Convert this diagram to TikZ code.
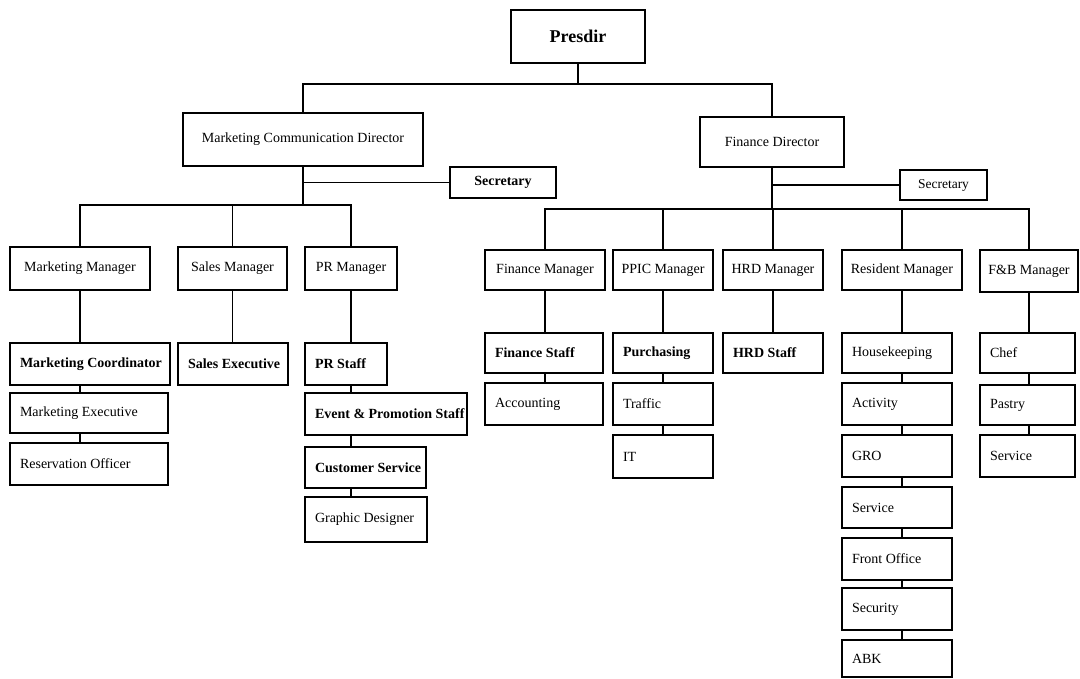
\documentclass[tikz,border=0pt]{standalone}
\usepackage{fontspec}
\setmainfont{Liberation Serif}
\tikzset{
  bx/.style={draw=black, line width=1.5pt, fill=white, inner xsep=10pt, inner ysep=2pt,
    font=\fontsize{14}{16}\selectfont, text=black},
  bb/.style={font=\fontsize{14}{16}\selectfont\bfseries},
  ln/.style={draw=black, line width=1.5pt}
}
\newcommand\obox[8]{%
  \pgfmathsetmacro\bw{#6-#4}%
  \pgfmathsetmacro\bh{#7-#5}%
  \pgfmathsetmacro\tw{#6-#4-20}%
  \pgfmathsetmacro\cx{(#4+#6)/2}%
  \pgfmathsetmacro\cy{(#5+#7)/2}%
  \node[bx,#1,minimum width=\bw pt,minimum height=\bh pt] (#3) at (\cx,\cy) {\makebox[\tw pt][#2]{#8}};%
}
\begin{document}
\begin{tikzpicture}[x=1pt,y=-1pt]
\useasboundingbox (0,0) rectangle (1080,679);
% top levels
\obox{font=\fontsize{18}{20}\selectfont\bfseries}{c}{pres}{511}{10}{645}{63}{Presdir}
\obox{}{c}{mcd}{183}{113}{423}{166}{Marketing Communication Director}
\obox{}{c}{fd}{700}{117}{844}{167}{Finance Director}
\obox{bb}{c}{sec1}{450}{167}{556}{198}{Secretary}
\obox{font=\fontsize{13.5}{15}\selectfont}{c}{sec2}{900}{170}{987}{200}{Secretary}
% managers
\obox{}{c}{mm}{10}{247}{150}{290}{Marketing Manager}
\obox{}{c}{sm}{178}{247}{287}{290}{Sales Manager}
\obox{}{c}{prm}{305}{247}{397}{290}{PR Manager}
\obox{}{c}{fm}{485}{250}{605}{290}{Finance Manager}
\obox{}{c}{pm}{613}{250}{713}{290}{PPIC Manager}
\obox{}{c}{hm}{723}{250}{823}{290}{HRD Manager}
\obox{}{c}{rm}{842}{250}{962}{290}{Resident Manager}
\obox{}{c}{fbm}{980}{250}{1078}{292}{F\&B Manager}
% marketing column
\obox{bb}{l}{mc}{10}{343}{170}{385}{Marketing Coordinator}
\obox{}{l}{me}{10}{393}{168}{433}{Marketing Executive}
\obox{}{l}{ro}{10}{443}{168}{485}{Reservation Officer}
% sales
\obox{bb}{l}{se}{178}{343}{288}{385}{Sales Executive}
% PR
\obox{bb}{l}{prs}{305}{343}{387}{385}{PR Staff}
\obox{bb}{l}{eps}{305}{393}{467}{435}{Event \& Promotion Staff}
\obox{bb}{l}{cs}{305}{447}{426}{488}{Customer Service}
\obox{}{l}{gd}{305}{497}{427}{542}{Graphic Designer}
% finance
\obox{bb}{l}{fs}{485}{333}{603}{373}{Finance Staff}
\obox{}{l}{acc}{485}{383}{603}{425}{Accounting}
% PPIC
\obox{bb}{l}{pur}{613}{333}{713}{373}{Purchasing}
\obox{}{l}{tra}{613}{383}{713}{425}{Traffic}
\obox{}{l}{it}{613}{435}{713}{478}{IT}
% HRD
\obox{bb}{l}{hs}{723}{333}{823}{373}{HRD Staff}
% resident
\obox{}{l}{hk}{842}{333}{952}{373}{Housekeeping}
\obox{}{l}{act}{842}{383}{952}{425}{Activity}
\obox{}{l}{gro}{842}{435}{952}{477}{GRO}
\obox{}{l}{svca}{842}{487}{952}{528}{Service}
\obox{}{l}{fo}{842}{538}{952}{580}{Front Office}
\obox{}{l}{secu}{842}{588}{952}{630}{Security}
\obox{}{l}{abk}{842}{640}{952}{677}{ABK}
% F&B
\obox{}{l}{chef}{980}{333}{1075}{373}{Chef}
\obox{}{l}{pas}{980}{385}{1075}{425}{Pastry}
\obox{}{l}{svcb}{980}{435}{1075}{477}{Service}
% connectors top
\coordinate (tb) at (pres.south |- 0,84);
\draw[ln] (pres.south) -- (tb);
\draw[ln] (mcd.north) |- (tb) -| (fd.north);
% left branch
\coordinate (lb) at (mcd.south |- 0,205);
\draw[ln] (mcd.south) -- (lb);
\draw[ln] (sec1.west) -- (sec1.west -| mcd.south);
\draw[ln] (mm.north) |- (prm.north |- lb) -- (prm.north);
\draw[ln] (sm.north) -- (sm.north |- lb);
% right branch
\coordinate (rb) at (fd.south |- 0,209);
\draw[ln] (fd.south) -- (rb);
\draw[ln] (sec2.west) -- (sec2.west -| fd.south);
\draw[ln] (fm.north) |- (fbm.north |- rb) -- (fbm.north);
\foreach \n in {pm,hm,rm} \draw[ln] (\n.north) -- (\n.north |- rb);
% columns
\foreach \a/\b/\c in {mm/mc/mm, mc/me/mm, me/ro/mm,
  sm/se/sm,
  prm/prs/prm, prs/eps/prm, eps/cs/prm, cs/gd/prm,
  fm/fs/fm, fs/acc/fm,
  pm/pur/pm, pur/tra/pm, tra/it/pm,
  hm/hs/hm,
  rm/hk/rm, hk/act/rm, act/gro/rm, gro/svca/rm, svca/fo/rm, fo/secu/rm, secu/abk/rm,
  fbm/chef/fbm, chef/pas/fbm, pas/svcb/fbm}
  \draw[ln] (\a.south -| \c.south) -- (\b.north -| \c.south);
\end{tikzpicture}
\end{document}
